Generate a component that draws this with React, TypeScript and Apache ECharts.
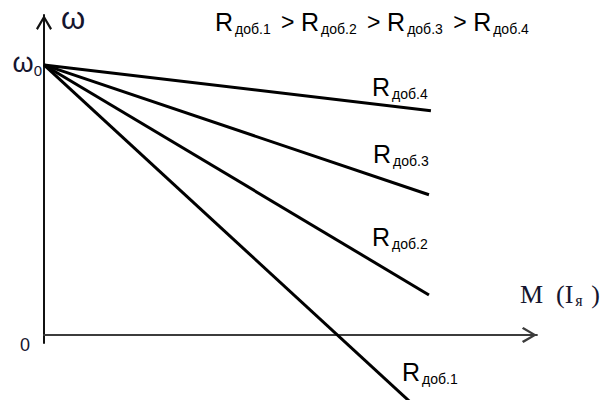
import { useEffect, useRef } from "react";
import * as echarts from "echarts";

// Mechanical characteristics ω = f(M) of a DC motor for several added armature resistances.
const omega0 = 1;
const speedTickValues = [0, 1];
const speedTickLabels = ["0", "ω0"];
const resistorIndex = ["1", "2", "3", "4"];
const endTorque = [0.745, 0.781, 0.781, 0.785];
const endSpeed = [-0.252, 0.148, 0.519, 0.83];

const SUB = "доб.";
const INK = "#15152e";
const SANS = "'Liberation Sans', Arial, sans-serif";
const SERIF = "'Liberation Serif', 'Times New Roman', serif";

// open chevron arrowhead, tip pointing up in its own box
const CHEVRON = "path://M0 13.5 L8 0 L16 13.5 L14.2 15 L8 4.2 L1.8 15 Z";

const bigStyle = { fontFamily: SANS, fontSize: 25, lineHeight: 28, color: INK };
const subStyle = {
  fontFamily: SANS,
  fontSize: 14,
  lineHeight: 12,
  verticalAlign: "bottom",
  color: INK,
  padding: [0, 0, 0, 2],
};
const gtStyle = { fontFamily: SANS, fontSize: 23, lineHeight: 28, color: INK, width: 20 };

function resistorLabel(i: number) {
  return `{r|R}{s|${SUB}${resistorIndex[i]}}`;
}

// pixel anchors for the label next to each characteristic
const labelAnchors = [
  [402, 358],
  [372, 223],
  [373, 140],
  [372, 73],
];

export default function App() {
  const ref = useRef<HTMLDivElement>(null);

  useEffect(() => {
    if (!ref.current) return;
    const chart = echarts.init(ref.current, null, { renderer: "svg" });

    const series = resistorIndex.map((_, i) => ({
      type: "line",
      name: "R" + SUB + resistorIndex[i],
      data: [
        [0, omega0],
        [endTorque[i], endSpeed[i]],
      ],
      symbol: "none",
      clip: false,
      silent: true,
      lineStyle: { color: "#000", width: 3 },
      z: 3,
    }));

    const formula = resistorIndex
      .map((_, i) => (i === 0 ? "" : "{g|>}") + resistorLabel(i))
      .join("");

    chart.setOption({
      animation: false,
      backgroundColor: "#fff",
      grid: { left: 44, right: 65, top: 15, bottom: 57, containLabel: false },
      xAxis: {
        type: "value",
        min: 0,
        max: 1,
        name: "{m|M  (I}{s|я}{m|)}",
        nameLocation: "end",
        nameGap: -17,
        nameTextStyle: {
          align: "left",
          verticalAlign: "bottom",
          padding: [0, 0, 26, 0],
          rich: {
            m: { fontFamily: SERIF, fontSize: 26, lineHeight: 28, color: INK },
            s: {
              fontFamily: SERIF,
              fontSize: 16,
              lineHeight: 12,
              verticalAlign: "bottom",
              color: INK,
              width: 16,
              align: "left",
              padding: [0, 0, 0, 2],
            },
          },
        },
        axisLine: {
          onZero: true,
          lineStyle: { color: "#3c3c3c", width: 2 },
          symbol: ["none", CHEVRON],
          symbolSize: [16, 15],
          symbolOffset: [0, -7.5],
        },
        axisTick: { show: false },
        axisLabel: { show: false },
        splitLine: { show: false },
      },
      yAxis: {
        type: "value",
        min: -0.03,
        max: 1.185,
        name: "ω",
        nameLocation: "end",
        nameGap: -3,
        nameTextStyle: {
          align: "left",
          verticalAlign: "middle",
          fontFamily: SANS,
          fontSize: 31,
          color: INK,
          padding: [0, 0, 0, 17],
        },
        axisLine: {
          onZero: true,
          lineStyle: { color: "#111", width: 2 },
          symbol: ["none", CHEVRON],
          symbolSize: [16, 15],
          symbolOffset: [0, -7.5],
        },
        axisTick: { show: false },
        splitLine: { show: false },
        axisLabel: {
          show: true,
          customValues: speedTickValues,
          margin: 2,
          formatter: (v: number) => {
            const idx = speedTickValues.indexOf(v);
            const text = speedTickLabels[idx] ?? "";
            if (text === "0") return "{z|0}";
            return `{w|${text.charAt(0)}}{o|${text.slice(1)}}`;
          },
          rich: {
            z: {
              fontFamily: SANS,
              fontSize: 18,
              lineHeight: 18,
              color: INK,
              padding: [21, 12, 0, 0],
            },
            w: {
              fontFamily: SANS,
              fontSize: 27,
              lineHeight: 26,
              color: INK,
              padding: [0, 0, 4, 0],
            },
            o: {
              fontFamily: SANS,
              fontSize: 15,
              lineHeight: 14,
              verticalAlign: "bottom",
              color: INK,
            },
          },
        },
      },
      series,
      graphic: [
        {
          type: "text",
          x: 215,
          y: 8,
          silent: true,
          style: {
            text: formula,
            rich: { r: bigStyle, s: { ...subStyle, width: 46 }, g: gtStyle },
          },
        },
        ...labelAnchors.map((p, i) => ({
          type: "text",
          x: p[0],
          y: p[1],
          silent: true,
          style: {
            text: resistorLabel(i),
            rich: { r: bigStyle, s: subStyle },
          },
        })),
      ],
    });

    return () => chart.dispose();
  }, []);

  return (
    <div
      ref={ref}
      style={{
        position: "absolute",
        left: 0,
        top: 0,
        width: 603,
        height: 400,
        background: "#fff",
      }}
    />
  );
}
